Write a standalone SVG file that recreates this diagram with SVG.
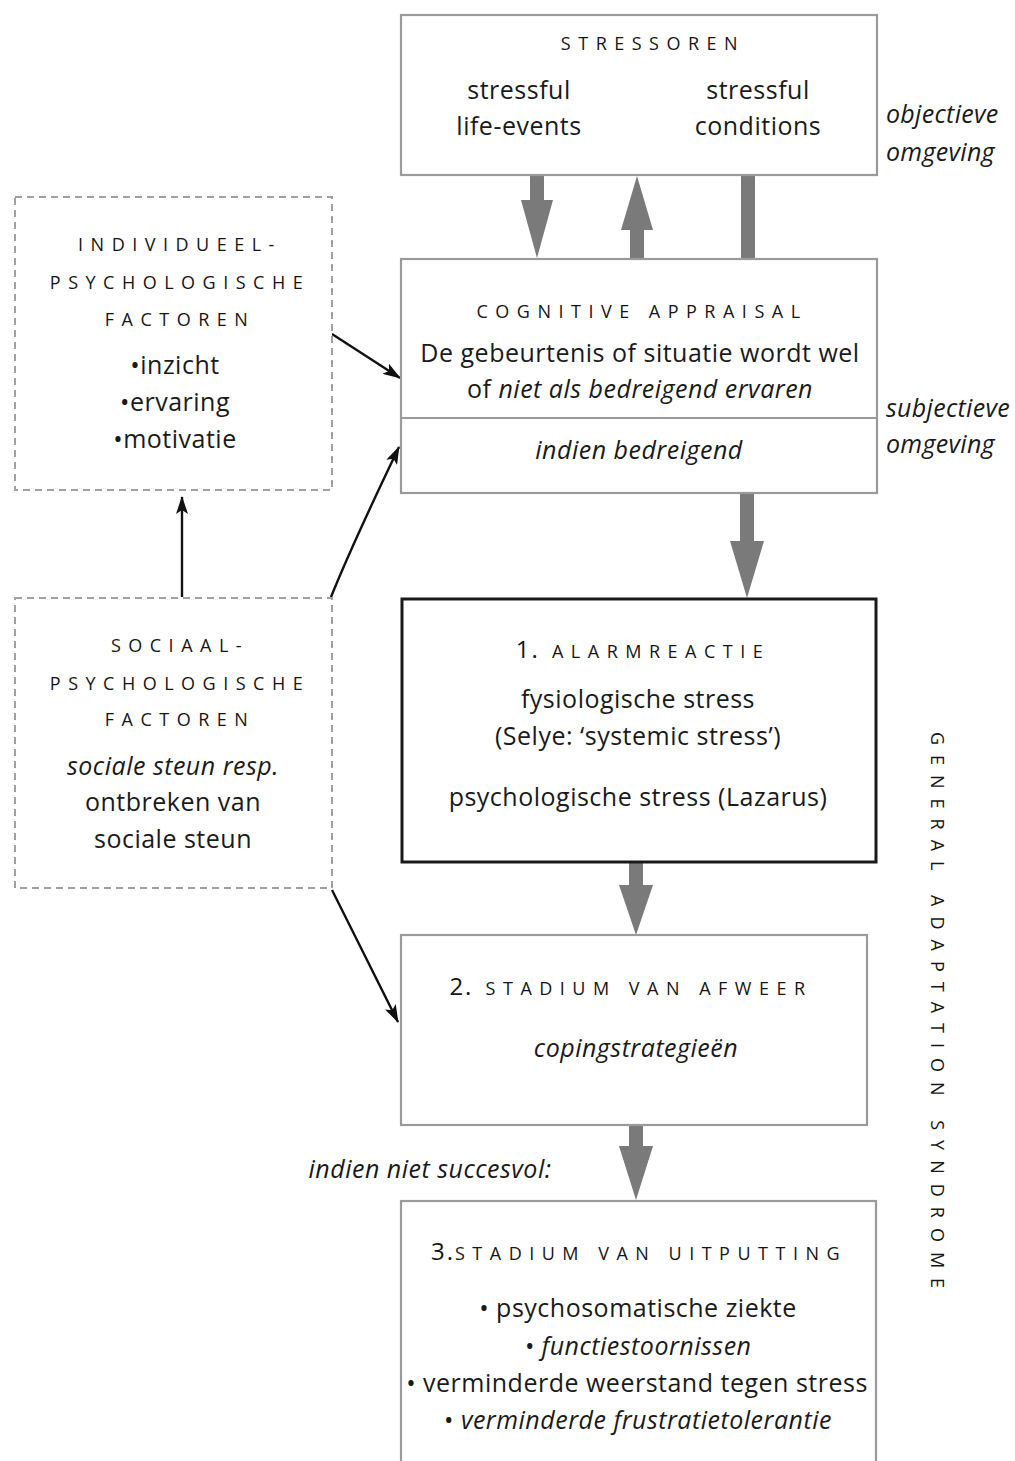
<svg xmlns="http://www.w3.org/2000/svg" width="1015" height="1461" viewBox="0 0 1015 1461">
<style>
text{font-family:"Open Sans","Noto Sans","Liberation Sans",sans-serif;fill:#1a1a1a;text-anchor:middle}
.b{font-size:25px;letter-spacing:0.5px}
.i{font-style:italic}
.sc{font-size:18px;letter-spacing:7.5px;fill:#151515}
.num{font-size:24px;letter-spacing:2px}
.box{fill:#fff;stroke:#9a9a9a;stroke-width:2.2}
.dash{fill:#fff;stroke:#a0a0a0;stroke-width:2;stroke-dasharray:7 5}
.alarm{fill:#fff;stroke:#1a1a1a;stroke-width:3}
.fat{fill:#7a7a7a}
.thin{stroke:#111;stroke-width:2.4;fill:none;marker-end:url(#ah)}
.side{font-size:25px;font-style:italic;text-anchor:start;letter-spacing:0.3px}
</style>
<defs>
<marker id="ah" viewBox="0 0 18 12" refX="17" refY="6" markerWidth="18" markerHeight="12" markerUnits="userSpaceOnUse" orient="auto">
<path d="M0,0 L18,6 L0,12 L4,6 Z" fill="#111"/>
</marker>
</defs>
<rect width="1015" height="1461" fill="#fff"/>

<g id="connectors">
<path class="fat" d="M530,175 H544 V200 H553 L537,258 L521,200 H530 Z"/>
<path class="fat" d="M630,258 H644 V230 H653 L637,176 L621,230 H630 Z"/>
<rect class="fat" x="741" y="175" width="14" height="84"/>
<path class="fat" d="M740,493 H754 V541 H764 L747,598 L730,541 H740 Z"/>
<path class="fat" d="M629,862 H643 V885 H653 L636,935 L619,885 H629 Z"/>
<path class="fat" d="M629,1125 H643 V1146 H653 L636,1200 L619,1146 H629 Z"/>
<path class="thin" d="M332,334 L400,378"/>
<path class="thin" d="M331,597 Q352,545 399,447"/>
<path class="thin" d="M182,597 L182,497"/>
<path class="thin" d="M332,890 L398,1022"/>
</g>

<g id="stressoren">
<rect class="box" x="401" y="15" width="476" height="160"/>
<text class="sc" x="653" y="50">STRESSOREN</text>
<text class="b" x="519" y="99">stressful</text>
<text class="b" x="519" y="135">life-events</text>
<text class="b" x="758" y="99">stressful</text>
<text class="b" x="758" y="135">conditions</text>
</g>
<g id="objectieve">
<text class="side" x="886" y="123">objectieve</text>
<text class="side" x="886" y="161">omgeving</text>
</g>

<g id="cognitive-appraisal">
<rect class="box" x="401" y="259" width="476" height="234"/>
<line x1="401" y1="418" x2="877" y2="418" stroke="#9a9a9a" stroke-width="2.2"/>
<text class="sc" x="642" y="318">COGNITIVE APPRAISAL</text>
<text class="b" x="640" y="362">De gebeurtenis of situatie wordt wel</text>
<text class="b" x="640" y="398">of <tspan class="i">niet als bedreigend ervaren</tspan></text>
<text class="b i" x="639" y="459">indien bedreigend</text>
</g>
<g id="subjectieve">
<text class="side" x="886" y="417">subjectieve</text>
<text class="side" x="886" y="453">omgeving</text>
</g>

<g id="individueel">
<rect class="dash" x="15" y="197" width="317" height="293"/>
<text class="sc" x="180" y="251">INDIVIDUEEL-</text>
<text class="sc" x="180" y="289">PSYCHOLOGISCHE</text>
<text class="sc" x="180" y="326">FACTOREN</text>
<text class="b" x="175" y="374">•inzicht</text>
<text class="b" x="175" y="411">•ervaring</text>
<text class="b" x="175" y="448">•motivatie</text>
</g>

<g id="sociaal">
<rect class="dash" x="15" y="598" width="317" height="290"/>
<text class="sc" x="180" y="652">SOCIAAL-</text>
<text class="sc" x="180" y="690">PSYCHOLOGISCHE</text>
<text class="sc" x="180" y="726">FACTOREN</text>
<text class="b i" x="173" y="775">sociale steun resp.</text>
<text class="b" x="173" y="811">ontbreken van</text>
<text class="b" x="173" y="848">sociale steun</text>
</g>

<g id="alarmreactie">
<rect class="alarm" x="402" y="599" width="474" height="263"/>
<text class="sc" x="643" y="658"><tspan class="num">1.</tspan> ALARMREACTIE</text>
<text class="b" x="638" y="708">fysiologische stress</text>
<text class="b" x="638" y="745">(Selye: ‘systemic stress’)</text>
<text class="b" x="638" y="806">psychologische stress (Lazarus)</text>
</g>

<g id="afweer">
<rect class="box" x="401" y="935" width="466" height="190"/>
<text class="sc" x="631" y="995"><tspan class="num">2.</tspan> STADIUM VAN AFWEER</text>
<text class="b i" x="636" y="1057">copingstrategieën</text>
</g>

<g id="niet-succesvol">
<text class="b i" x="430" y="1178">indien niet succesvol:</text>
</g>

<g id="uitputting">
<rect class="box" x="401" y="1201" width="475" height="280"/>
<text class="sc" x="639" y="1260"><tspan class="num">3.</tspan>STADIUM VAN UITPUTTING</text>
<text class="b" x="638" y="1317">• psychosomatische ziekte</text>
<text class="b i" x="638" y="1355">• functiestoornissen</text>
<text class="b" x="637" y="1392">• verminderde weerstand tegen stress</text>
<text class="b" x="638" y="1429">• <tspan class="i">verminderde frustratietolerantie</tspan></text>
</g>

<g id="gas">
<text class="sc" transform="translate(931,1015) rotate(90)" style="font-size:18px;letter-spacing:10px">GENERAL ADAPTATION SYNDROME</text>
</g>
</svg>
